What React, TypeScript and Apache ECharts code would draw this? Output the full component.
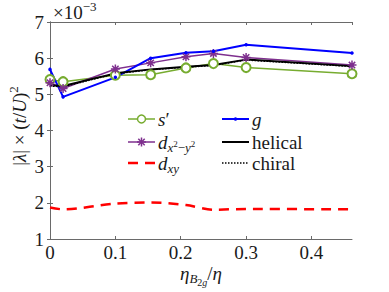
import React, { useEffect, useRef } from 'react';
import * as echarts from 'echarts';

// ---- data (values in units of 1e-3) ----
const etaRatio = [0, 0.02, 0.1, 0.154, 0.208, 0.25, 0.3, 0.462];
const sPrime = [5.41, 5.35, 5.53, 5.54, 5.73, 5.85, 5.74, 5.57];
const dX2Y2 = [5.32, 5.16, 5.70, 5.87, 6.04, 6.13, 6.02, 5.81];
const dXY = [1.87, 1.82, 1.98, 2.01, 1.94, 1.81, 1.83, 1.82];
const gWave = [5.69, 4.93, 5.47, 6.0, 6.15, 6.19, 6.37, 6.14];
const helical = [5.25, 5.23, 5.58, 5.69, 5.76, 5.81, 5.96, 5.78];
const chiral = [5.23, 5.21, 5.57, 5.68, 5.75, 5.80, 5.95, 5.77];
const xTickStep = 0.1;
const yTickStep = 1;

const FONT = 'Liberation Serif';
const FS = 19;
const TXT = '#1a1a1a';
const AX = '#6a6a6a';

const GREEN = '#77AC30';
const PURPLE = '#7E2F8E';
const RED = '#FF0000';
const BLUE = '#0000FF';
const BLACK = '#000000';

const ASTERISK = 'path://M5,0L5,10M0,5L10,5M1.46,1.46L8.54,8.54M1.46,8.54L8.54,1.46';

const pairs = (ys: number[]) => etaRatio.map((x, i) => [x, ys[i]]);

const mkRich = (lh: number) => ({
  r: { fontFamily: FONT, fontSize: FS, lineHeight: lh, fill: TXT },
  i: { fontFamily: FONT, fontSize: FS, fontStyle: 'italic', lineHeight: lh, fill: TXT },
  sb: { fontFamily: FONT, fontSize: 13, fontStyle: 'italic', lineHeight: lh, padding: [10, 0, 0, 0], fill: TXT },
  sbr: { fontFamily: FONT, fontSize: 13, lineHeight: lh, padding: [10, 0, 0, 0], fill: TXT },
  ss: { fontFamily: FONT, fontSize: 9, lineHeight: lh, padding: [4, 0, 0, 0], fill: TXT },
  ssb: { fontFamily: FONT, fontSize: 10, fontStyle: 'italic', lineHeight: lh, padding: [19, 0, 0, 0], fill: TXT },
  ssbr: { fontFamily: FONT, fontSize: 10, lineHeight: lh, padding: [19, 0, 0, 0], fill: TXT },
  sup: { fontFamily: FONT, fontSize: 13, lineHeight: lh, padding: [0, 0, 12, 0], fill: TXT },
});
const rich = mkRich(22);
const richTight = mkRich(14);

const txt = (text: string, x: number, y: number, extra: any = {}, r: any = rich) => ({
  type: 'text',
  x,
  y,
  z: 100,
  ...extra,
  style: {
    text,
    rich: r,
    fill: TXT,
    fontFamily: FONT,
    fontSize: FS,
    align: extra.align || 'left',
    verticalAlign: 'middle',
  },
});

const lineEl = (x1: number, y1: number, x2: number, y2: number, style: any) => ({
  type: 'line',
  z: 100,
  shape: { x1, y1, x2, y2 },
  style,
});

function buildLegend() {
  const c1 = 128, c2 = 222, w = 27, tx1 = 158, tx2 = 252;
  const rows = [119, 142, 163];
  const els: any[] = [];
  els.push(lineEl(c1, rows[0], c1 + w, rows[0], { stroke: GREEN, lineWidth: 1.5 }));
  els.push({ type: 'circle', z: 101, shape: { cx: c1 + w / 2, cy: rows[0], r: 4 }, style: { fill: '#fff', stroke: GREEN, lineWidth: 1.5 } });
  els.push(txt("{i|s}{r|′}", tx1, rows[0]));
  els.push(lineEl(c1, rows[1], c1 + w, rows[1], { stroke: PURPLE, lineWidth: 1.5 }));
  const cx = c1 + w / 2, cy = rows[1], a = 4.5, b = 3.2;
  els.push(lineEl(cx, cy - a, cx, cy + a, { stroke: PURPLE, lineWidth: 1.5 }));
  els.push(lineEl(cx - a, cy, cx + a, cy, { stroke: PURPLE, lineWidth: 1.5 }));
  els.push(lineEl(cx - b, cy - b, cx + b, cy + b, { stroke: PURPLE, lineWidth: 1.5 }));
  els.push(lineEl(cx - b, cy + b, cx + b, cy - b, { stroke: PURPLE, lineWidth: 1.5 }));
  els.push(txt('{i|d}{sb|x}{ss|2}{sbr|−}{sb|y}{ss|2}', tx1, rows[1]));
  els.push(lineEl(c1, rows[2], c1 + w, rows[2], { stroke: RED, lineWidth: 2.5, lineDash: [10, 7] }));
  els.push(txt('{i|d}{sb|xy}', tx1, rows[2]));
  els.push(lineEl(c2, rows[0], c2 + w, rows[0], { stroke: BLUE, lineWidth: 2 }));
  els.push({ type: 'circle', z: 101, shape: { cx: c2 + w / 2, cy: rows[0], r: 1.8 }, style: { fill: BLUE } });
  els.push(txt('{i|g}', tx2, rows[0]));
  els.push(lineEl(c2, rows[1], c2 + w, rows[1], { stroke: BLACK, lineWidth: 2 }));
  els.push(txt('{r|helical}', tx2, rows[1]));
  els.push(lineEl(c2, rows[2], c2 + w, rows[2], { stroke: BLACK, lineWidth: 1.5, lineDash: [1.5, 1.5] }));
  els.push(txt('{r|chiral}', tx2, rows[2]));
  return els;
}

export default function App() {
  const ref = useRef<HTMLDivElement>(null);
  useEffect(() => {
    if (!ref.current) return;
    const chart = echarts.init(ref.current, undefined, { renderer: 'svg' });
    const axisCommon = {
      axisLine: { show: true, lineStyle: { color: AX, width: 1 } },
      axisTick: { show: true, inside: true, length: 3, lineStyle: { color: AX, width: 1 } },
      splitLine: { show: false },
    };
    chart.setOption({
      animation: false,
      backgroundColor: '#ffffff',
      textStyle: { fontFamily: FONT },
      grid: { left: 50, right: 37, top: 22, bottom: 53, outerBoundsMode: 'none', containLabel: false },
      xAxis: [
        {
          type: 'value', min: 0, max: 0.462, interval: xTickStep, position: 'bottom',
          ...axisCommon,
          axisLabel: { color: TXT, fontFamily: FONT, fontSize: FS, margin: 4, showMaxLabel: false },
        },
        {
          type: 'value', min: 0, max: 0.462, interval: xTickStep, position: 'top',
          ...axisCommon,
          axisLabel: { show: false },
        },
      ],
      yAxis: [
        {
          type: 'value', min: 1, max: 7, interval: yTickStep, position: 'left',
          ...axisCommon,
          axisLabel: { color: TXT, fontFamily: FONT, fontSize: FS, margin: 6 },
        },
        {
          type: 'value', min: 1, max: 7, interval: yTickStep, position: 'right',
          ...axisCommon,
          axisLabel: { show: false },
        },
      ],
      series: [
        {
          name: "s'", type: 'line', data: pairs(sPrime), clip: false,
          symbol: 'emptyCircle', symbolSize: 9,
          lineStyle: { color: GREEN, width: 1.5 },
          itemStyle: { color: GREEN, borderColor: GREEN, borderWidth: 1.5 },
        },
        {
          name: 'dx2-y2', type: 'line', data: pairs(dX2Y2), clip: false,
          symbol: ASTERISK, symbolSize: 9,
          lineStyle: { color: PURPLE, width: 1.5 },
          itemStyle: { color: PURPLE, borderColor: PURPLE, borderWidth: 1.5 },
        },
        {
          name: 'dxy', type: 'line', data: pairs(dXY), clip: false,
          symbol: 'none', smooth: 0.3,
          lineStyle: { color: RED, width: 2.5, type: [10, 7] },
        },
        {
          name: 'g', type: 'line', data: pairs(gWave), clip: false,
          symbol: 'circle', symbolSize: 3.5,
          lineStyle: { color: BLUE, width: 2 },
          itemStyle: { color: BLUE },
        },
        {
          name: 'helical', type: 'line', data: pairs(helical), clip: false,
          symbol: 'none',
          lineStyle: { color: BLACK, width: 2 },
        },
        {
          name: 'chiral', type: 'line', data: pairs(chiral), clip: false,
          symbol: 'none',
          lineStyle: { color: BLACK, width: 1.5, type: [1.5, 1.5] },
        },
      ],
      graphic: [
        txt('{r|×10}{sup|−3}', 53, 12),
        txt('{i|η}{sb|B}{ssbr|2}{ssb|g}{r|/}{i|η}', 201, 273, { align: 'center' }, richTight),
        txt('{r||}{i|λ}{r|| × (}{i|t}{r|/}{i|U}{r|)}{sup|2}', 19, 126, { align: 'center', rotation: Math.PI / 2 }),
        ...buildLegend(),
      ],
    });
    return () => chart.dispose();
  }, []);
  return (
    <div
      ref={ref}
      style={{ position: 'absolute', left: 0, top: 0, width: 389, height: 292 }}
    />
  );
}
